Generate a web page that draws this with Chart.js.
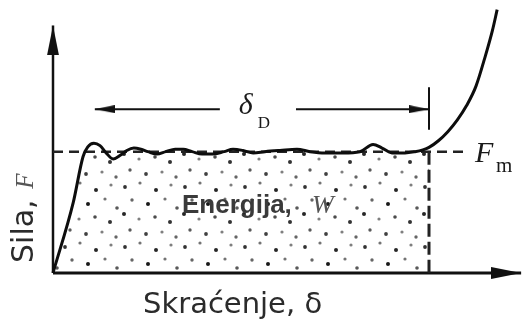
<!DOCTYPE html>
<html>
<head>
<meta charset="utf-8">
<script src="https://cdn.jsdelivr.net/npm/chart.js@4.4.0/dist/chart.umd.min.js"></script>
<style>
  html, body { margin: 0; padding: 0; background: #fff; }
  canvas { display: block; filter: blur(0.35px); }
</style>
</head>
<body>
<canvas id="forceChart" width="523" height="322"></canvas>
<script>
// shortening δ (0..100 along the axis) and force F (in units of Fm)
const deflection = [0, 4.3, 6.4, 7.4, 8.7, 10, 11.3, 12.8, 14.3, 15.7, 17.2, 18.7, 20.2, 22.1,
  24, 26, 27.7, 29.6, 31.7, 34, 36.4, 38.3, 40.4, 42.6, 45.1, 48.3, 51.9, 54.7, 57.9,
  61.7, 65.3, 68.1, 70, 72.1, 74.9, 77, 78.7, 80, 82, 84, 86, 88, 90, 92, 93.5, 94.5];
const force = [0, 0.58, 0.96, 1.04, 1.07, 1.05, 0.99, 0.94, 0.97, 1.01, 1.03, 1.02, 1.0, 0.98,
  1.0, 1.02, 1.02, 1.0, 0.98, 0.98, 1.0, 1.02, 1.01, 0.99, 1.0, 1.01, 1.02, 1.0, 0.99,
  0.99, 1.0, 1.06, 1.03, 0.99, 0.99, 1.0, 1.015, 1.035, 1.09, 1.165, 1.26, 1.38, 1.54, 1.79, 2.0, 2.17];

const meanForce = 1;        // Fm
const crushLength = 80;     // end of δD
const xMax = 100;
const yMax = 2.25;
const xAxisEnd = 99.6;
const yAxisEnd = 2.04;
const fmLineEnd = 88.3;

// δD dimension line
const spanLevel = 1.35;
const spanStart = 8.9;
const spanGap = [35.5, 51.7];
const spanTick = [1.53, 1.18];

const xTitle = 'Skraćenje, δ';
const yTitle = 'Sila, ';
const areaTitle = 'Energija, ';

// dots of the shaded area, one tile: x, y, radius, darkness
const stipple = [
  [5, 7, 1.9, 0.8], [20, 3, 1.6, 0.55], [36, 10, 2.0, 0.85], [51, 5, 1.6, 0.5],
  [12, 20, 1.7, 0.6], [28, 24, 2.0, 0.9], [45, 19, 1.6, 0.55], [57, 28, 1.8, 0.65],
  [4, 34, 2.0, 0.85], [19, 39, 1.6, 0.5], [35, 37, 1.8, 0.7], [50, 42, 2.0, 0.8],
  [10, 50, 1.7, 0.65], [26, 54, 1.9, 0.75], [42, 52, 1.6, 0.5], [56, 57, 1.7, 0.6]
];

const ink = '#111';

const makeStipple = (ctx) => {
  const tile = document.createElement('canvas');
  tile.width = 60;
  tile.height = 60;
  const g = tile.getContext('2d');
  stipple.forEach(([x, y, r, a]) => {
    g.fillStyle = `rgba(0,0,0,${a})`;
    g.beginPath();
    g.arc(x, y, r, 0, Math.PI * 2);
    g.fill();
  });
  return ctx.createPattern(tile, 'repeat');
};

// arrow head pointing right, tip in the middle of the image
const arrowHead = (len, width) => {
  const c = document.createElement('canvas');
  c.width = len * 2;
  c.height = width;
  const g = c.getContext('2d');
  g.fillStyle = ink;
  g.beginPath();
  g.moveTo(0, 0);
  g.lineTo(len, width / 2);
  g.lineTo(0, width);
  g.closePath();
  g.fill();
  return c;
};

const bigArrow = arrowHead(30, 12);
const smallArrow = arrowHead(20, 8);

const curve = deflection.map((d, i) => ({ x: d, y: force[i] }));
const plateau = curve.filter((p) => p.x <= crushLength);

const segment = (data, width, extra = {}) => ({
  data,
  borderColor: ink,
  borderWidth: width,
  pointRadius: 0,
  fill: false,
  clip: false,
  ...extra,
});

const withArrow = (img, rotation) => ({
  pointRadius: [0, 6],
  pointStyle: ['circle', img],
  pointRotation: [0, rotation],
});

const labelsPlugin = {
  id: 'labels',
  afterDraw(chart) {
    const { ctx, scales: { x, y } } = chart;
    ctx.save();
    ctx.textBaseline = 'alphabetic';
    ctx.textAlign = 'left';

    // x title
    ctx.fillStyle = '#2b2b2b';
    ctx.font = '29px "DejaVu Sans"';
    ctx.fillText(xTitle, 143, 313);

    // y title, rotated
    ctx.save();
    ctx.translate(33, 263);
    ctx.rotate(-Math.PI / 2);
    ctx.font = '30px "DejaVu Sans"';
    ctx.fillText(yTitle, 0, 0);
    const w = ctx.measureText(yTitle).width;
    ctx.fillStyle = '#555';
    ctx.font = 'italic 25px "Liberation Serif"';
    ctx.fillText('F', w + 1, 0);
    ctx.restore();

    // area label
    ctx.fillStyle = '#3a3a3a';
    ctx.font = 'bold 26px "Liberation Sans"';
    ctx.fillText(areaTitle, 182, 213);
    ctx.fillStyle = '#555';
    ctx.font = 'italic 26px "Liberation Serif"';
    ctx.fillText('W', 312, 213);

    // Fm
    const fx = x.getPixelForValue(fmLineEnd) + 7;
    const fy = y.getPixelForValue(meanForce);
    ctx.fillStyle = '#1a1a1a';
    ctx.font = 'italic 30px "Liberation Serif"';
    ctx.fillText('F', fx, fy + 10);
    ctx.font = '21px "Liberation Serif"';
    ctx.fillText('m', fx + 21, fy + 20);

    // δD
    const dx = x.getPixelForValue(spanGap[0]) + 19;
    const dy = y.getPixelForValue(spanLevel);
    ctx.font = 'italic 30px "Liberation Serif"';
    ctx.fillText('δ', dx, dy + 5);
    ctx.font = '17px "Liberation Serif"';
    ctx.fillText('D', dx + 19, dy + 19);

    ctx.restore();
  },
};

const canvas = document.getElementById('forceChart');
const ctx = canvas.getContext('2d');

new Chart(ctx, {
  type: 'line',
  data: {
    datasets: [
      segment(curve, 3, { cubicInterpolationMode: 'monotone', borderColor: '#0d0d0d' }),
      segment([{ x: 0, y: meanForce }, { x: fmLineEnd, y: meanForce }], 2.5, { borderDash: [10, 6], borderColor: '#222' }),
      segment([{ x: crushLength, y: meanForce }, { x: crushLength, y: 0 }], 3, { borderDash: [13, 5], borderColor: '#222' }),
      segment([{ x: spanGap[0], y: spanLevel }, { x: spanStart, y: spanLevel }], 2, withArrow(smallArrow, 180)),
      segment([{ x: spanGap[1], y: spanLevel }, { x: crushLength, y: spanLevel }], 2, withArrow(smallArrow, 0)),
      segment([{ x: crushLength, y: spanTick[0] }, { x: crushLength, y: spanTick[1] }], 2),
      segment([{ x: 0, y: 0 }, { x: xAxisEnd, y: 0 }], 3, withArrow(bigArrow, 0)),
      segment([{ x: 0, y: 0 }, { x: 0, y: yAxisEnd }], 2.5, withArrow(bigArrow, -90)),
      segment(plateau, 0, {
        cubicInterpolationMode: 'monotone',
        fill: 'origin',
        backgroundColor: makeStipple(ctx),
      }),
    ],
  },
  options: {
    responsive: false,
    animation: false,
    devicePixelRatio: 1,
    layout: { autoPadding: false, padding: { left: 53, right: 0, top: 0, bottom: 49 } },
    scales: {
      x: { type: 'linear', min: 0, max: xMax, display: false },
      y: { type: 'linear', min: 0, max: yMax, display: false },
    },
    plugins: {
      legend: { display: false },
      tooltip: { enabled: false },
    },
  },
  plugins: [labelsPlugin],
});
</script>
</body>
</html>
